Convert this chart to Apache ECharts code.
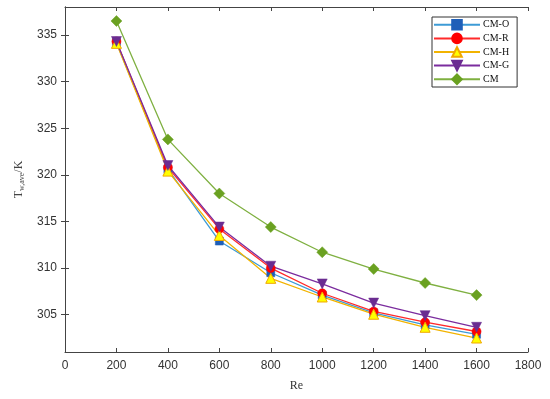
<!DOCTYPE html>
<html><head><meta charset="utf-8">
<script src="https://cdn.jsdelivr.net/npm/echarts@6/dist/echarts.min.js"></script>
<style>html,body{margin:0;padding:0;background:#fff}#c{width:550px;height:399px}</style>
</head><body><div id="c"></div>
<script>
const re = [200, 400, 600, 800, 1000, 1200, 1400, 1600];
const cmO = [334.2, 320.6, 312.9, 309.5, 307.1, 305.2, 303.9, 302.9];
const cmR = [334.3, 320.8, 314.2, 310.0, 307.3, 305.35, 304.2, 303.2];
const cmH = [334.1, 320.4, 313.5, 308.9, 306.9, 305.05, 303.65, 302.5];
const cmG = [334.3, 321.0, 314.4, 310.2, 308.3, 306.25, 304.9, 303.65];
const cm  = [336.5, 323.8, 318.0, 314.4, 311.7, 309.9, 308.4, 307.1];
const xTicks = [0, 200, 400, 600, 800, 1000, 1200, 1400, 1600, 1800];
const yTicks = [305, 310, 315, 320, 325, 330, 335];

const pts = a => a.map((v, i) => [re[i], v]);
const mk = (name, data, lineColor, markColor, symbol, size, extra) => Object.assign({
  name, type: 'line', data: pts(data), symbol, symbolSize: size,
  lineStyle: { color: lineColor, width: 1.3 },
  itemStyle: { color: markColor, borderColor: markColor, borderWidth: 0.5 },
  emphasis: { disabled: true }, z: 3
}, extra || {});

const chart = echarts.init(document.getElementById('c'), null, { renderer: 'canvas' });
const axisLine = { show: true, lineStyle: { color: '#444', width: 1 } };
chart.setOption({
  animation: false,
  backgroundColor: '#fff',
  grid: { left: 65, right: 22, top: 7, bottom: 47, containLabel: false },
  legend: {
    left: 432, top: 17, orient: 'vertical',
    itemWidth: 46, itemHeight: 12, itemGap: 2,
    padding: [2, 8, 2, 1],
    borderColor: '#333', borderWidth: 1, backgroundColor: '#fff',
    textStyle: { fontFamily: 'Liberation Serif', fontSize: 10, lineHeight: 10, color: '#111', padding: [0, 0, 0, -2] },
    data: ['CM-O', 'CM-R', 'CM-H', 'CM-G', 'CM']
  },
  xAxis: [{
    type: 'value', min: 0, max: 1800, interval: 200,
    name: 'Re', nameLocation: 'middle', nameGap: 28,
    nameTextStyle: { fontFamily: 'Liberation Serif', fontSize: 12, color: '#333' },
    axisLine, axisTick: { inside: true, length: 4, lineStyle: { color: '#444' } },
    axisLabel: { fontFamily: 'Liberation Sans', fontSize: 12, color: '#333', margin: 8,
      formatter: v => xTicks.includes(v) ? String(v) : '' },
    splitLine: { show: false }
  }, {
    type: 'value', position: 'top', min: 0, max: 1800, interval: 200,
    axisLine, axisTick: { inside: true, length: 4, lineStyle: { color: '#444' } },
    axisLabel: { show: false }, splitLine: { show: false }
  }],
  yAxis: [{
    type: 'value', min: 301, max: 338, interval: 5,
    name: 'T{sub|w,ave}/K', nameLocation: 'middle', nameGap: 38, nameRotate: 90,
    nameTextStyle: { fontFamily: 'Liberation Serif', fontSize: 12, color: '#444',
      rich: { sub: { fontFamily: 'Liberation Serif', fontSize: 8, color: '#444', verticalAlign: 'bottom', padding: [6, 0, 0, 0] } } },
    axisLine, axisTick: { inside: true, length: 4, lineStyle: { color: '#444' }, customValues: yTicks },
    axisLabel: { fontFamily: 'Liberation Sans', fontSize: 12, color: '#333', margin: 8, customValues: yTicks },
    splitLine: { show: false }
  }, {
    type: 'value', position: 'right', min: 301, max: 338, interval: 5,
    axisLine, axisTick: { inside: true, length: 4, lineStyle: { color: '#444' }, customValues: yTicks },
    axisLabel: { show: false }, splitLine: { show: false }
  }],
  series: [
    mk('CM-O', cmO, '#3d9bd6', '#1f5fb8', 'rect', 8),
    mk('CM-R', cmR, '#ff2a2a', '#ff0000', 'circle', 9),
    mk('CM-H', cmH, '#f2b300', '#ffff00', 'triangle', 10, { itemStyle: { color: '#ffff00', borderColor: '#f0a800', borderWidth: 1 } }),
    mk('CM-G', cmG, '#7b2c9e', '#6a2c91', 'triangle', 10, { symbolRotate: 180 }),
    mk('CM', cm, '#7fb041', '#6aa121', 'diamond', 11)
  ]
});
</script></body></html>
